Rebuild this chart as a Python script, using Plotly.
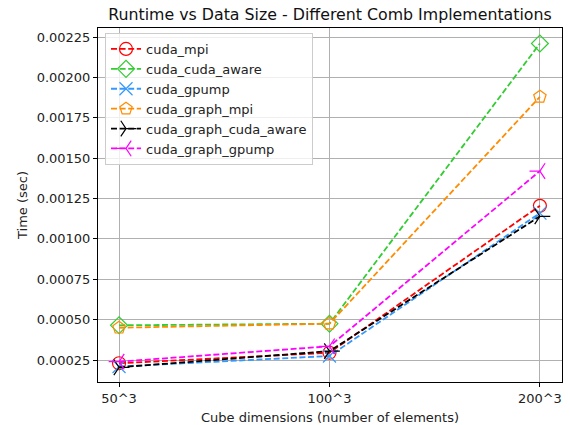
import plotly.graph_objects as go

categories = ["50^3", "100^3", "200^3"]
cuda_mpi = [0.000230, 0.000295, 0.001205]
cuda_cuda_aware = [0.000465, 0.000475, 0.002210]
cuda_gpump = [0.000210, 0.000275, 0.001160]
cuda_graph_mpi = [0.000450, 0.000475, 0.001880]
cuda_graph_cuda_aware = [0.000205, 0.000305, 0.001140]
cuda_graph_gpump = [0.000240, 0.000335, 0.001420]

series = [
    ("cuda_mpi", cuda_mpi, "#ff0000", "circle-open"),
    ("cuda_cuda_aware", cuda_cuda_aware, "#33cc33", "diamond-open"),
    ("cuda_gpump", cuda_gpump, "#3399ff", "x-thin-open"),
    ("cuda_graph_mpi", cuda_graph_mpi, "#ff8c00", "pentagon-open"),
    ("cuda_graph_cuda_aware", cuda_graph_cuda_aware, "#000000", "y-right-open"),
    ("cuda_graph_gpump", cuda_graph_gpump, "#ff00ff", "y-left-open"),
]

ytick_vals = [0.00025 * i for i in range(1, 10)]

fig = go.Figure()
for name, vals, color, sym in series:
    fig.add_trace(go.Scatter(
        x=categories, y=vals, name=name, mode="lines+markers",
        line=dict(color=color, width=1.8, dash="6px,2.6px"),
        marker=dict(symbol=sym, size=13, color=color, line=dict(color=color, width=1.2)),
    ))

font = "DejaVu Sans, sans-serif"
fig.update_layout(
    width=570, height=425,
    margin=dict(l=98, r=8, t=28, b=43),
    paper_bgcolor="white", plot_bgcolor="white",
    font=dict(family=font, size=13, color="#222"),
    title=dict(text="Runtime vs Data Size - Different Comb Implementations",
               x=(98 + 562) / 2 / 570, xanchor="center", y=1 - 14 / 425, yanchor="middle",
               font=dict(size=15.8, color="#111")),
    showlegend=True,
    legend=dict(x=(105 - 98) / 464, xanchor="left", y=1 - (33 - 28) / 354, yanchor="top",
                bgcolor="rgba(255,255,255,0.8)", bordercolor="#cccccc", borderwidth=1,
                font=dict(size=13, color="#222"), tracegroupgap=0, itemwidth=30),
    xaxis=dict(type="category", range=[-0.1, 2.105], automargin=False,
               showgrid=True, gridcolor="#b0b0b0", gridwidth=0.8,
               showline=True, linecolor="black", linewidth=1, mirror=True,
               ticks="outside", ticklen=4, tickcolor="black",
               tickfont=dict(size=13),
               title=dict(text="Cube dimensions (number of elements)", standoff=8,
                          font=dict(size=13))),
    yaxis=dict(range=[0.000114, 0.002306], tickvals=ytick_vals, tickformat=".5f",
               automargin=False,
               showgrid=True, gridcolor="#b0b0b0", gridwidth=0.8, zeroline=False,
               showline=True, linecolor="black", linewidth=1, mirror=True,
               ticks="outside", ticklen=4, tickcolor="black",
               tickfont=dict(size=13),
               title=dict(text="Time (sec)", standoff=6, font=dict(size=13))),
)

fig.write_html("out.html")
